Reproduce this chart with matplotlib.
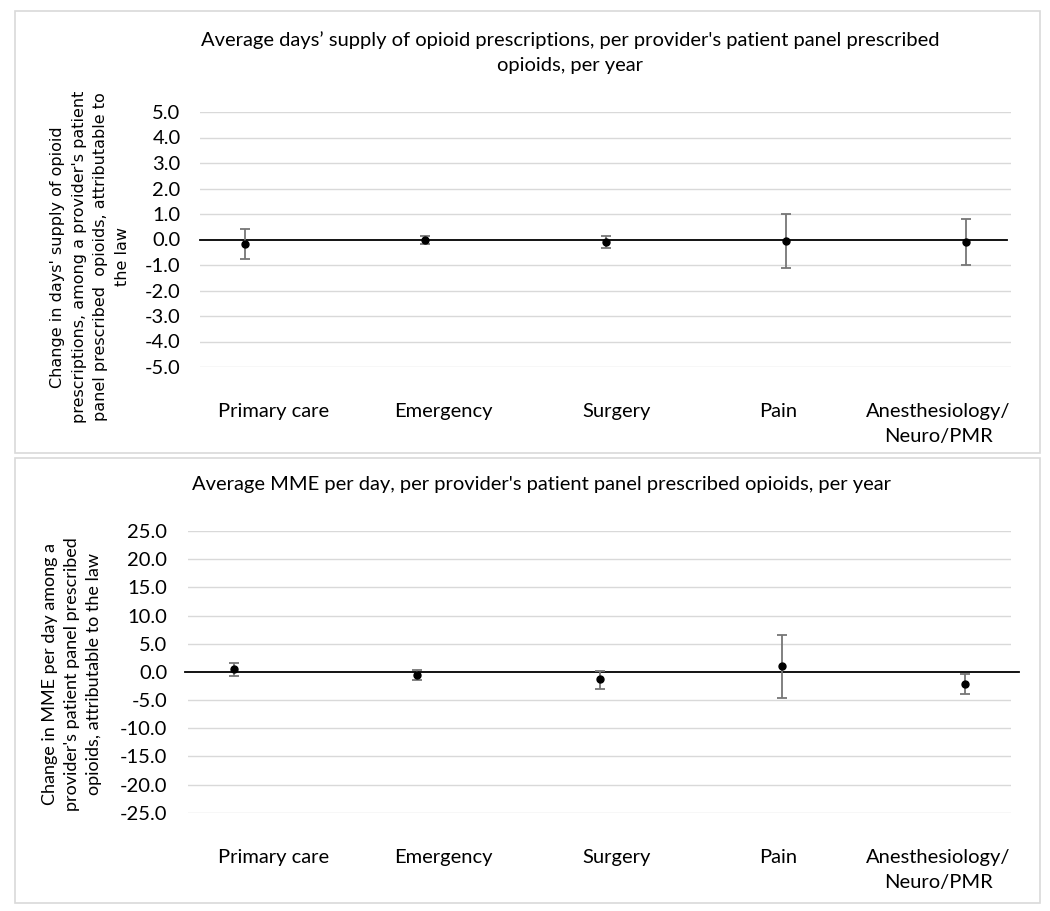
import numpy as np
import matplotlib
matplotlib.use("Agg")
import matplotlib.pyplot as plt
from matplotlib.patches import Rectangle

categories = ["Primary care", "Emergency", "Surgery", "Pain", "Anesthesiology/\nNeuro/PMR"]

# days' supply panel
days_est = [-0.18, -0.03, -0.09, -0.04, -0.10]
days_lo = [-0.78, -0.19, -0.33, -1.10, -1.01]
days_hi = [0.41, 0.14, 0.13, 0.99, 0.79]

# MME per day panel
mme_est = [0.45, -0.51, -1.33, 0.97, -2.11]
mme_lo = [-0.69, -1.51, -3.05, -4.71, -4.00]
mme_hi = [1.62, 0.32, 0.14, 6.53, -0.33]

days_ticks = [-5, -4, -3, -2, -1, 0, 1, 2, 3, 4, 5]
mme_ticks = [-25, -20, -15, -10, -5, 0, 5, 10, 15, 20, 25]

W, H = 1050, 911
FONT = "Lato"
FS = 14.5
GRID = "#d9d9d9"
ERR = "#767676"

fig = plt.figure(figsize=(W / 100, H / 100), dpi=100)


def px_box(left, top, right, bottom):
    return [left / W, 1 - bottom / H, (right - left) / W, (bottom - top) / H]


# panel borders
for top, bottom in [(11, 453), (458, 903)]:
    fig.patches.append(Rectangle((15 / W, 1 - bottom / H), (1040 - 15) / W, (bottom - top) / H,
                                 transform=fig.transFigure, fill=False, edgecolor=GRID, lw=1.2))

label_px = [274, 443, 617, 778, 938]


def draw_panel(box, est, lo, hi, ticks, zero_span, label_y, pad):
    ax = fig.add_axes(box)
    x = np.arange(len(est))
    est = np.array(est)
    yerr = [est - np.array(lo), np.array(hi) - est]
    ax.set_xlim(-0.25, 4.25)
    ax.set_ylim(ticks[0], ticks[-1])
    for t in ticks:
        if t != 0:
            ax.axhline(t, color=GRID, lw=1.0, zorder=1)
    ax.axhline(0, xmin=zero_span[0], xmax=zero_span[1], color="black", lw=1.3, zorder=2, clip_on=False)
    ax.errorbar(x, est, yerr=yerr, fmt="o", color="black", ms=5, ecolor=ERR,
                elinewidth=1.3, capsize=3.8, capthick=1.3, zorder=3, clip_on=False)
    ax.set_yticks(ticks)
    ax.set_yticklabels([f"{t:.1f}" for t in ticks], fontsize=FS, family=FONT)
    ax.tick_params(axis="y", length=0, pad=pad)
    ax.set_xticks([])
    for s in ax.spines.values():
        s.set_visible(False)
    for lx, name in zip(label_px, categories):
        fig.text(lx / W, 1 - label_y / H, name, ha="center", va="top", fontsize=FS,
                 family=FONT, linespacing=1.6)
    return ax


ax1 = draw_panel(px_box(200, 112, 1011, 367), days_est, days_lo, days_hi, days_ticks,
                 (0.0, 0.995), 403, 14)
ax2 = draw_panel(px_box(188, 531, 1011, 812.7), mme_est, mme_lo, mme_hi, mme_ticks,
                 (-0.004, 1.01), 849, 15)

fig.text(570 / W, 1 - 31 / H,
         "Average days\u2019 supply of opioid prescriptions, per provider's patient panel prescribed\nopioids, per year",
         ha="center", va="top", fontsize=FS, family=FONT, linespacing=1.6)
fig.text(542 / W, 1 - 476 / H,
         "Average MME per day, per provider's patient panel prescribed opioids, per year",
         ha="center", va="top", fontsize=FS, family=FONT)

fig.text(90 / W, 1 - 257 / H,
         "Change in days' supply of opioid\nprescriptions, among a provider's patient\npanel prescribed  opioids, attributable to\nthe law",
         ha="center", va="center", rotation=90, fontsize=11.5, family="DejaVu Sans", linespacing=1.55)
fig.text(72 / W, 1 - 674 / H,
         "Change in MME per day among a\nprovider's patient panel prescribed\nopioids, attributable to the law",
         ha="center", va="center", rotation=90, fontsize=13, family=FONT, linespacing=1.45)

fig.savefig("out.png", dpi=100)
